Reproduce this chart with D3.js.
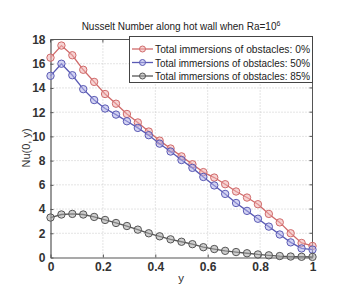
<!DOCTYPE html>
<html><head><meta charset="utf-8">
<script src="https://cdn.jsdelivr.net/npm/d3@7"></script>
<style>
body{margin:0;background:#fff;}
text{font-family:"Liberation Sans",Arial,sans-serif;}
</style></head>
<body><svg id="c" width="349" height="288"></svg>
<script>
const yPos = d3.range(25).map(i => i / 24);
const nu0 = [16.5,17.5,16.7,15.5,14.5,13.5,12.7,11.85,11.15,10.4,9.65,9.0,8.35,7.7,7.05,6.6,6.05,5.45,4.95,4.4,3.6,2.9,2.0,1.2,0.95];
const nu50 = [15.0,16.0,15.05,13.9,13.0,12.3,11.8,11.25,10.7,10.1,9.4,8.75,8.05,7.4,6.65,5.95,5.25,4.5,3.85,3.2,2.55,1.9,1.25,0.75,0.65];
const nu85 = [3.3,3.55,3.6,3.55,3.35,3.1,2.85,2.6,2.3,2.0,1.75,1.5,1.3,1.1,0.85,0.7,0.55,0.45,0.35,0.25,0.18,0.12,0.08,0.06,0.05];
const seriesNames = ["Total immersions of obstacles: 0%","Total immersions of obstacles: 50%","Total immersions of obstacles: 85%"];
const xTicks = [0,0.2,0.4,0.6,0.8,1];
const yTicks = [0,2,4,6,8,10,12,14,16,18];

const series = [
  {name:seriesNames[0], vals:nu0, stroke:"#d06a6a", fill:"#f0b0b0"},
  {name:seriesNames[1], vals:nu50, stroke:"#5a5ab4", fill:"#b0b0ea"},
  {name:seriesNames[2], vals:nu85, stroke:"#555555", fill:"#a8a8a8"}
];

const svg = d3.select("#c");
const L=50.5, R=312.5, T=39.5, B=257.5;
const x = d3.scaleLinear().domain([0,1]).range([L,R]);
const y = d3.scaleLinear().domain([0,18]).range([B,T]);

// grid
const g = svg.append("g");
g.selectAll(".gx").data(xTicks.slice(1,-1)).enter().append("line")
  .attr("x1",d=>x(d)).attr("x2",d=>x(d)).attr("y1",T).attr("y2",B)
  .attr("stroke","#bbb").attr("stroke-width",0.8).attr("stroke-dasharray","1,2");
g.selectAll(".gy").data(yTicks.slice(1,-1)).enter().append("line")
  .attr("y1",d=>y(d)).attr("y2",d=>y(d)).attr("x1",L).attr("x2",R)
  .attr("stroke","#bbb").attr("stroke-width",0.8).attr("stroke-dasharray","1,2");

// axes
const xAxis = d3.axisBottom(x).tickValues(xTicks).tickFormat(d3.format("")).tickSizeInner(-3).tickSizeOuter(0).tickPadding(5);
const yAxis = d3.axisLeft(y).tickValues(yTicks).tickSizeInner(-3).tickSizeOuter(0).tickPadding(5);
const xa = svg.append("g").attr("transform",`translate(0,${B})`).call(xAxis);
const ya = svg.append("g").attr("transform",`translate(${L},0)`).call(yAxis);
[xa,ya].forEach(a=>{
  a.select(".domain").attr("stroke","#555").attr("stroke-width",1.2);
  a.selectAll(".tick line").attr("stroke","#555");
  a.selectAll("text").attr("font-size","12px").attr("font-weight","bold").attr("fill","#333").attr("font-family","'Liberation Sans',Arial,sans-serif");
});
svg.append("line").attr("x1",L).attr("x2",R).attr("y1",T).attr("y2",T).attr("stroke","#555").attr("stroke-width",1);
svg.append("line").attr("x1",R).attr("x2",R).attr("y1",T).attr("y2",B).attr("stroke","#555").attr("stroke-width",1);
svg.selectAll(".tt").data(xTicks).enter().append("line").attr("x1",d=>x(d)).attr("x2",d=>x(d)).attr("y1",T).attr("y2",T+3).attr("stroke","#555");
svg.selectAll(".rt").data(yTicks).enter().append("line").attr("y1",d=>y(d)).attr("y2",d=>y(d)).attr("x1",R).attr("x2",R-3).attr("stroke","#555");

// series
const line = d3.line().x((d,i)=>x(yPos[i])).y(d=>y(d));
series.forEach(s=>{
  svg.append("path").datum(s.vals).attr("d",line).attr("fill","none").attr("stroke",s.stroke).attr("stroke-width",1.3);
  svg.selectAll(null).data(s.vals).enter().append("circle")
    .attr("cx",(d,i)=>x(yPos[i])).attr("cy",d=>y(d)).attr("r",3.7)
    .attr("fill",s.fill).attr("fill-opacity",0.55).attr("stroke",s.stroke).attr("stroke-width",1);
});

// legend
const lg = svg.append("g");
lg.append("rect").attr("x",129.5).attr("y",36.5).attr("width",183).attr("height",46)
  .attr("fill","#fff").attr("stroke","#444").attr("stroke-width",1);
series.forEach((s,i)=>{
  const ly = 49 + i*13.5;
  lg.append("line").attr("x1",132).attr("x2",153).attr("y1",ly).attr("y2",ly).attr("stroke",s.stroke).attr("stroke-width",1.3);
  lg.append("circle").attr("cx",142.5).attr("cy",ly).attr("r",3).attr("fill",s.fill).attr("fill-opacity",0.55).attr("stroke",s.stroke);
  lg.append("text").attr("x",155).attr("y",ly+4).attr("font-size","11px").attr("fill","#222")
    .attr("textLength",155).attr("lengthAdjust","spacingAndGlyphs").text(s.name);
});

// title
const t = svg.append("text").attr("x",181).attr("y",30).attr("text-anchor","middle").attr("font-size","10px").attr("fill","#222");
t.append("tspan").text("Nusselt Number along hot wall when Ra=10");
t.append("tspan").attr("dy",-4).attr("font-size","7px").text("6");

// axis labels
svg.append("text").attr("x",181).attr("y",282).attr("text-anchor","middle").attr("font-size","11.5px").attr("fill","#333").text("y");
svg.append("text").attr("transform","translate(30,148) rotate(-90)").attr("text-anchor","middle").attr("font-size","11px").attr("fill","#333").text("Nu(0, y)");
</script></body></html>
